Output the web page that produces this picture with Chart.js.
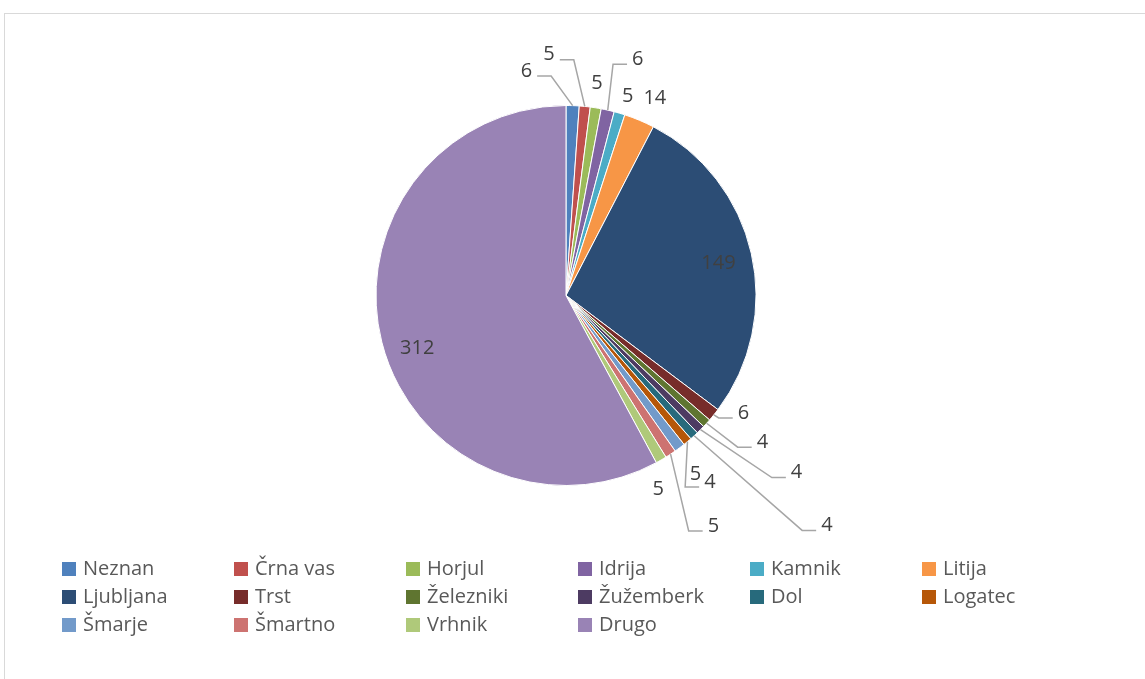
<!DOCTYPE html>
<html>
<head>
<meta charset="utf-8">
<script src="https://cdn.jsdelivr.net/npm/chart.js@4"></script>
<style>
    body { margin: 0; background: #fff; }
    canvas { display: block; }
</style>
</head>
<body>
<canvas id="pieChart" width="1145" height="679"></canvas>
<script>
// Chart data
const categories = ['Neznan', 'Črna vas', 'Horjul', 'Idrija', 'Kamnik', 'Litija',
    'Ljubljana', 'Trst', 'Železniki', 'Žužemberk', 'Dol', 'Logatec',
    'Šmarje', 'Šmartno', 'Vrhnik', 'Drugo'];
const values = [6, 5, 5, 6, 5, 14, 149, 6, 4, 4, 4, 4, 5, 5, 5, 312];

// Styling
const colors = ['#4F81BD', '#C0504D', '#9BBB59', '#8064A2', '#4BACC6', '#F79646',
    '#2C4D75', '#772C2A', '#5F7530', '#4D3B62', '#276A7C', '#B65708',
    '#729ACA', '#CD7371', '#AFC97A', '#9983B5'];
// label placement: angle shift from slice middle (deg) and distance in radii
const labelShift = [-12, -9.7, -0.7, 4.2, 0.8, 1.5, 1.0, -5.4, -5.5, -7.4, -6.2, 2.1, 0.8, 0.8, 4.6, -5.2];
const labelRadius = [1.20, 1.27, 1.13, 1.30, 1.10, 1.14, 0.82, 1.12, 1.29, 1.53, 1.83, 1.24, 1.16, 1.44, 1.13, 0.83];
const hasLeader = [true, true, false, true, false, false, false, true, true, true, true, true, false, true, false, false];

const FONT = '20px "Open Sans"';

// Function to draw data labels with leader lines
const labelPlugin = {
    id: 'pieLabels',
    afterDatasetsDraw(chart) {
        const ctx = chart.ctx;
        const meta = chart.getDatasetMeta(0);
        ctx.save();
        ctx.font = FONT;
        ctx.textAlign = 'center';
        ctx.textBaseline = 'middle';
        meta.data.forEach(function(arc, i) {
            const p = arc.getProps(['x', 'y', 'startAngle', 'endAngle', 'outerRadius'], true);
            const mid = (p.startAngle + p.endAngle) / 2;
            const la = mid + labelShift[i] * Math.PI / 180;
            const lx = p.x + Math.cos(la) * p.outerRadius * labelRadius[i];
            const ly = p.y + Math.sin(la) * p.outerRadius * labelRadius[i];
            const text = String(values[i]);

            if (hasLeader[i]) {
                const sx = p.x + Math.cos(mid) * p.outerRadius;
                const sy = p.y + Math.sin(mid) * p.outerRadius;
                const w = ctx.measureText(text).width;
                const dir = lx > sx ? -1 : 1;
                const ex = lx + dir * (w / 2 + 5);
                const ey = ly + 5;
                const bx = ex + dir * 14;
                ctx.strokeStyle = '#A6A6A6';
                ctx.lineWidth = 1.5;
                ctx.beginPath();
                ctx.moveTo(sx, sy);
                ctx.lineTo(bx, ey);
                ctx.lineTo(ex, ey);
                ctx.stroke();
            }
            ctx.fillStyle = '#404040';
            ctx.fillText(text, lx, ly);
        });
        ctx.restore();
    },
    afterDraw(chart) {
        // legend in 6 fixed columns
        const ctx = chart.ctx;
        ctx.save();
        ctx.font = FONT;
        ctx.textAlign = 'left';
        ctx.textBaseline = 'middle';
        categories.forEach(function(name, i) {
            const col = i % 6;
            const row = Math.floor(i / 6);
            const bx = 62 + col * 172;
            const by = 562 + row * 28;
            ctx.fillStyle = colors[i];
            ctx.fillRect(bx, by, 14, 14);
            ctx.fillStyle = '#595959';
            ctx.fillText(name, bx + 21, by + 7);
        });
        // chart frame
        ctx.strokeStyle = '#D9D9D9';
        ctx.lineWidth = 1;
        ctx.strokeRect(4.5, 13.5, 1300, 800);
        ctx.restore();
    }
};

new Chart(document.getElementById('pieChart'), {
    type: 'pie',
    data: {
        labels: categories,
        datasets: [{
            data: values,
            backgroundColor: colors,
            borderColor: '#FFFFFF',
            borderWidth: 1,
            hoverOffset: 0,
            offset: 0
        }]
    },
    options: {
        responsive: false,
        animation: false,
        devicePixelRatio: 1,
        layout: {
            padding: { left: 375.5, right: 388.5, top: 105, bottom: 193 }
        },
        plugins: {
            legend: { display: false },
            tooltip: { enabled: false }
        }
    },
    plugins: [labelPlugin]
});
</script>
</body>
</html>
